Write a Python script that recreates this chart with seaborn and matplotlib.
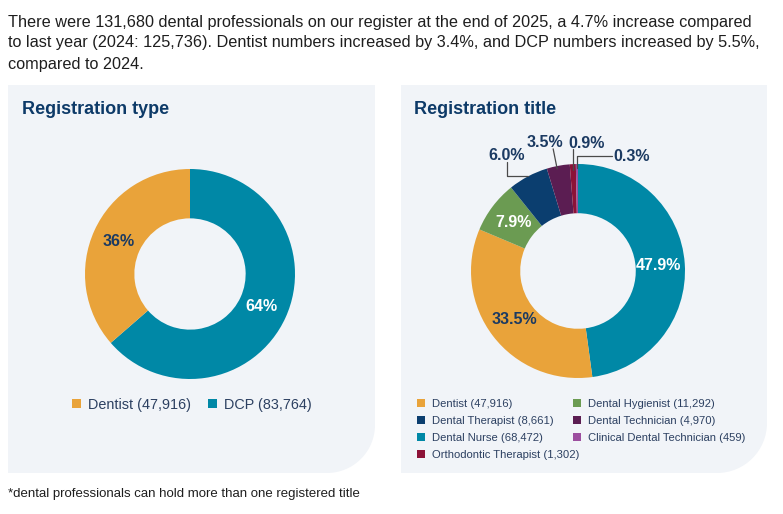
import numpy as np
import pandas as pd
import seaborn as sns
import matplotlib.pyplot as plt
from matplotlib.path import Path
from matplotlib.patches import PathPatch, Patch
from matplotlib.transforms import Affine2D

W, H = 783, 514

# registration type (left donut)
type_names = ['DCP', 'Dentist']
type_counts = [83764, 47916]
type_pct = ['64%', '36%']

# registration title (right donut)
title_names = ['Dental Nurse', 'Dentist', 'Dental Hygienist', 'Dental Therapist',
               'Dental Technician', 'Orthodontic Therapist', 'Clinical Dental Technician']
title_counts = [68472, 47916, 11292, 8661, 4970, 1302, 459]
title_pct = ['47.9%', '33.5%', '7.9%', '6.0%', '3.5%', '0.9%', '0.3%']

intro_lines = [
    'There were 131,680 dental professionals on our register at the end of 2025, a 4.7% increase compared',
    'to last year (2024: 125,736). Dentist numbers increased by 3.4%, and DCP numbers increased by 5.5%,',
    'compared to 2024.',
]
footnote = '*dental professionals can hold more than one registered title'

sns.set_theme(style='white')
plt.rcParams['font.family'] = ['Liberation Sans', 'DejaVu Sans']

BG = '#f1f4f8'
NAVY = '#0d3a68'
LABEL = '#1b3a62'
LEG = '#2c4061'
type_pal = sns.color_palette(['#0088a6', '#e9a33a'])
title_pal = sns.color_palette(['#0088a6', '#e9a33a', '#6b9b52', '#0b3e6f',
                               '#5b1d52', '#8c1237', '#9c4e9f'])

fig = plt.figure(figsize=(W / 100, H / 100), dpi=100)
fig.patch.set_facecolor('white')
# pixel coords, y down from the top
px = Affine2D().scale(1 / W, -1 / H).translate(0, 1) + fig.transFigure


def panel(x0, y0, x1, y1, r):
    k = 0.5523 * r
    verts = [(x0, y0), (x1, y0), (x1, y1 - r), (x1, y1 - r + k), (x1 - r + k, y1),
             (x1 - r, y1), (x0, y1), (x0, y0)]
    codes = [Path.MOVETO, Path.LINETO, Path.LINETO, Path.CURVE4, Path.CURVE4,
             Path.CURVE4, Path.LINETO, Path.CLOSEPOLY]
    p = PathPatch(Path(verts, codes), transform=px, fc=BG, ec='none', zorder=-1)
    fig.add_artist(p)


def donut_ax(cx, cy, r):
    ax = fig.add_axes([(cx - r) / W, 1 - (cy + r) / H, 2 * r / W, 2 * r / H])
    ax.set_facecolor('none')
    return ax


panel(8, 85, 375, 473, 48)
panel(401, 85, 767, 473, 50)

for i, line in enumerate(intro_lines):
    fig.text(8, 22 + i * 21, line, transform=px, fontsize=11.7, color='#1e1e1e',
             va='center', ha='left')

fig.text(22, 110, 'Registration type', transform=px, fontsize=13, fontweight='bold',
         color=NAVY, va='center')
fig.text(414, 110, 'Registration title', transform=px, fontsize=13, fontweight='bold',
         color=NAVY, va='center')
fig.text(8, 494, footnote, transform=px, fontsize=9.5, color='#1e1e1e', va='center')

# left donut
R1 = 105
ax1 = donut_ax(190, 274, R1)
w1, _ = ax1.pie(type_counts, colors=type_pal, startangle=90, counterclock=False,
                wedgeprops=dict(width=0.47, edgecolor='none'))
ax1.set_xlim(-1, 1)
ax1.set_ylim(-1, 1)
ax1.axis('off')
for w, lab, col in zip(w1, type_pct, ['white', LABEL]):
    th = np.deg2rad((w.theta1 + w.theta2) / 2)
    ax1.text(0.75 * np.cos(th), 0.75 * np.sin(th), lab, ha='center', va='center',
             fontsize=11.5, fontweight='bold', color=col)

leg_order = [1, 0]
fig.legend(handles=[Patch(fc=type_pal[i], ec='none') for i in leg_order],
           labels=[f'{type_names[i]} ({type_counts[i]:,})' for i in leg_order],
           loc='center', bbox_to_anchor=(192, 405), bbox_transform=px, ncol=2,
           frameon=False, fontsize=10.4, handlelength=0.6, handleheight=0.6,
           handletextpad=0.5, columnspacing=1.2, borderpad=0, borderaxespad=0,
           labelcolor=LEG)

# right donut
R2 = 107
ax2 = donut_ax(578, 271, R2)
w2, _ = ax2.pie(title_counts, colors=title_pal, startangle=90, counterclock=False,
                wedgeprops=dict(width=0.46, edgecolor='none'))
ax2.set_xlim(-1, 1)
ax2.set_ylim(-1, 1)
ax2.axis('off')

inside_col = {'47.9%': 'white', '33.5%': LABEL, '7.9%': 'white'}
# leader lines for the small slices: pixel offsets from the outer edge of the slice
leaders = {
    '6.0%': ([(0, 0), (-21, 0), (-21, -14)], (-21, -21), 'center'),
    '3.5%': ([(-1, 3), (-5, -17)], (-13, -23), 'center'),
    '0.9%': ([(0, 6), (0, -15)], (-4, -21), 'left'),
    '0.3%': ([(0, 4), (0, -8), (35, -8)], (36, -8), 'left'),
}
for w, lab in zip(w2, title_pct):
    th = np.deg2rad((w.theta1 + w.theta2) / 2)
    if lab in inside_col:
        ax2.text(0.75 * np.cos(th), 0.75 * np.sin(th), lab, ha='center', va='center',
                 fontsize=11.5, fontweight='bold', color=inside_col[lab])
    else:
        ox, oy = np.cos(th), np.sin(th)
        pts, tpos, ha = leaders[lab]
        xs = [ox + dx / R2 for dx, dy in pts]
        ys = [oy - dy / R2 for dx, dy in pts]
        ax2.plot(xs, ys, color='#4a4a4a', lw=0.9, clip_on=False)
        ax2.text(ox + tpos[0] / R2, oy - tpos[1] / R2, lab, ha=ha, va='center',
                 fontsize=11.5, fontweight='bold', color=LABEL)

col1 = [1, 3, 0, 5]
col2 = [2, 4, 6]
for idx, x in [(col1, 417), (col2, 573)]:
    fig.legend(handles=[Patch(fc=title_pal[i], ec='none') for i in idx],
               labels=[f'{title_names[i]} ({title_counts[i]:,})' for i in idx],
               loc='upper left', bbox_to_anchor=(x, 399), bbox_transform=px,
               frameon=False, fontsize=8.1, handlelength=0.72, handleheight=0.72,
               handletextpad=0.6, labelspacing=0.62, borderpad=0, borderaxespad=0,
               labelcolor=LEG)

fig.savefig('out.png', dpi=100, facecolor='white')
